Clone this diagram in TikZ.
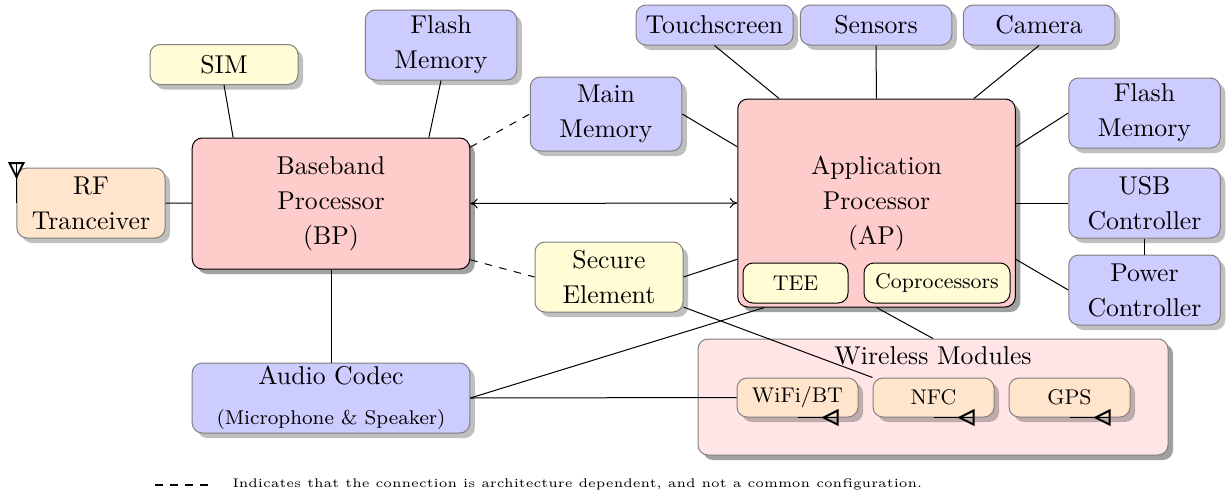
\documentclass[tikz,border=0pt]{standalone}
\usetikzlibrary{shadows,arrows.meta}

\definecolor{softyellow}{HTML}{FFFCD6}

\tikzset{
    softshadow/.style={drop shadow={shadow xshift=2pt,shadow yshift=-2pt,fill=black,opacity=0.25}},
    hardshadow/.style={drop shadow={shadow xshift=2pt,shadow yshift=-2pt,fill=black,opacity=0.37}},
    unit/.style={rectangle,rounded corners=4pt,inner sep=0pt,align=center,font=\fontsize{10.3}{14}\selectfont},
    part/.style={unit,draw=black!50,softshadow,minimum width=60.6pt,minimum height=28pt,fill=blue!20},
    thin part/.style={part,minimum height=16pt},
    processor/.style={unit,draw=black,hardshadow,fill=red!20,minimum width=111pt},
    inner part/.style={unit,draw=black,fill=softyellow,minimum height=16pt,font=\fontsize{8.5}{10}\selectfont},
    radio/.style={unit,draw=black!50,softshadow,fill=orange!20,minimum width=48.4pt,minimum height=15.6pt,font=\fontsize{8.5}{10}\selectfont},
    link/.style={line width=0.4pt},
    antenna/.pic={
        \draw[line width=0.45pt] (0,0) -- (40,0);
        \draw[line width=0.8pt] (40,-7) -- (40,7) -- (26,0) -- cycle;
    }
}

\begin{document}
\begin{tikzpicture}[x=0.4pt,y=-0.4pt]
    %\draw[help lines,step=100] (0,0) grid (1227,494);
    \useasboundingbox (0,0) rectangle (1227,494);

    % left side
    \node[part,fill=orange!20,minimum width=59.2pt] (rf) at (91,203) {RF\\Tranceiver};
    \node[processor,minimum height=52.4pt] (bp) at (331,203.5) {Baseband\\Processor\\(BP)};
    \node[thin part,fill=softyellow,minimum width=59.2pt] (sim) at (224,64.5) {SIM};
    \node[part] (flashb) at (441,45) {Flash\\Memory};
    \node[part,minimum height=29.6pt] (main) at (606,114) {Main\\Memory};
    \node[part,fill=softyellow,minimum width=59.2pt] (secure) at (609,277) {Secure\\Element};
    \node[part,minimum width=111pt] (audio) at (331,398) {Audio Codec\\[2pt]{\footnotesize (Microphone \& Speaker)}};

    % application processor
    \node[processor,minimum height=83.2pt] (ap) at (876.5,203) {Application\\Processor\\(AP)};
    \node[inner part,minimum width=42pt] (tee) at (795.5,283) {TEE};
    \node[inner part,minimum width=58.4pt] (copro) at (937,283) {Coprocessors};

    % around the AP
    \node[thin part,minimum width=62.8pt] (touch) at (714.5,25) {Touchscreen};
    \node[thin part] (sensors) at (876,25) {Sensors};
    \node[thin part] (camera) at (1039,25) {Camera};
    \node[part] (flasha) at (1144.5,113) {Flash\\Memory};
    \node[part] (usb) at (1144.5,203) {USB\\Controller};
    \node[part] (power) at (1144.5,290) {Power\\Controller};

    % wireless
    \node[unit,draw=black!50,hardshadow,fill=red!10,minimum width=188pt,minimum height=46.4pt] (wireless) at (933,397) {};
    \node[inner sep=0pt,font=\fontsize{10.3}{14}\selectfont] (wirelesstext) at (933,356) {Wireless Modules};
    \node[radio] (wifi) at (797.5,397.5) {WiFi/BT};
    \node[radio] (nfc) at (933.5,397.5) {NFC};
    \node[radio] (gps) at (1069.5,397.5) {GPS};

    % links
    \draw[link] (rf) -- (bp);
    \draw[link] (sim.south) -- (bp.146);
    \draw[link] (flashb.south) -- (bp.34);
    \draw[link,dashed] (bp.22) -- (main.west);
    \draw[link,dashed] (bp.-22) -- (secure.west);
    \draw[link] (bp.south) -- (audio.north);
    \draw[link,{To[length=3pt,width=4pt]}-{To[length=3pt,width=4pt]}] (bp.east) -- (ap.west);
    \draw[link] (main.east) -- (ap.158);
    \draw[link] (secure.east) -- (ap.202);
    \draw[link] (touch.south) -- (ap.133);
    \draw[link] (sensors.south) -- (ap.north);
    \draw[link] (camera.south) -- (ap.47);
    \draw[link] (flasha.west) -- (ap.22);
    \draw[link] (usb.west) -- (ap.east);
    \draw[link] (power.west) -- (ap.-22);
    \draw[link] (usb.south) -- (power.north);
    \draw[link] (audio.east) -- (ap.223.5);
    \draw[link] (audio.east) -- (wifi.west);
    \draw[link] (ap.south) -- (wireless.north);
    \draw[link] (secure.-22) -- (nfc.north west);

    % antennas
    \pic[rotate=90] at (rf.west) {antenna};
    \pic at (wifi.south) {antenna};
    \pic at (nfc.south) {antenna};
    \pic at (gps.south) {antenna};

    % legend
    \coordinate (dashstart) at (155,485);
    \coordinate (dashend) at (212,485);
    \draw[line width=0.5pt,dashed] (dashstart) -- (dashend);
    \node[anchor=west,inner sep=0pt,font=\tiny,xscale=1.02,transform shape] (legend) at (232,484.5) {Indicates that the connection is architecture dependent, and not a common configuration.};
\end{tikzpicture}
\end{document}
